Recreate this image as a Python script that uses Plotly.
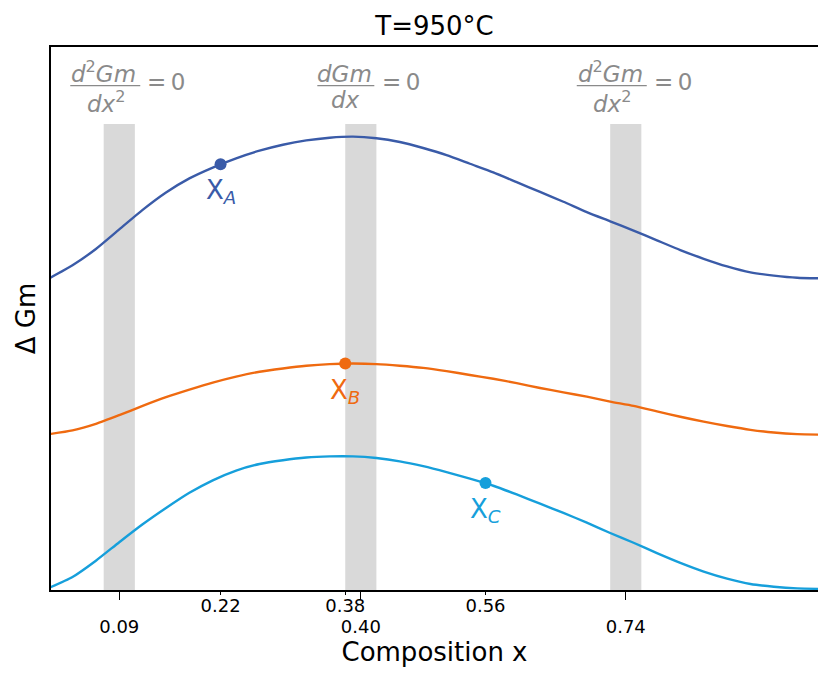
import plotly.graph_objects as go

# ---- data ----
x_comp = [0.00, 0.03, 0.06, 0.09, 0.12, 0.15, 0.18, 0.21, 0.24, 0.27, 0.30, 0.33, 0.36, 0.39,
          0.42, 0.45, 0.48, 0.51, 0.54, 0.57, 0.60, 0.63, 0.66, 0.69, 0.72, 0.75, 0.78, 0.81,
          0.84, 0.87, 0.90, 0.93, 0.96, 0.99]
gm_a = [0.574, 0.598, 0.628, 0.664, 0.700, 0.732, 0.758, 0.778, 0.795, 0.809, 0.820, 0.828, 0.833, 0.835,
        0.832, 0.825, 0.814, 0.801, 0.785, 0.769, 0.751, 0.733, 0.715, 0.696, 0.679, 0.662, 0.644, 0.626,
        0.610, 0.596, 0.585, 0.579, 0.575, 0.574]
gm_b = [0.287, 0.294, 0.306, 0.322, 0.339, 0.355, 0.369, 0.382, 0.393, 0.402, 0.408, 0.413, 0.416, 0.417,
        0.416, 0.413, 0.409, 0.403, 0.396, 0.389, 0.381, 0.372, 0.364, 0.356, 0.347, 0.339, 0.329, 0.319,
        0.310, 0.302, 0.295, 0.290, 0.287, 0.286]
gm_c = [0.004, 0.024, 0.054, 0.088, 0.121, 0.151, 0.179, 0.202, 0.220, 0.232, 0.239, 0.244, 0.246, 0.246,
        0.243, 0.237, 0.228, 0.217, 0.205, 0.192, 0.176, 0.159, 0.142, 0.124, 0.105, 0.087, 0.068, 0.050,
        0.034, 0.021, 0.011, 0.006, 0.003, 0.002]

point_x = [0.22, 0.38, 0.56]
point_y = [0.784, 0.417, 0.197]
point_names = ["A", "B", "C"]

band_centers = [0.09, 0.40, 0.74]
band_half_width = 0.02
band_top = 0.858
band_kinds = ["d2", "d1", "d2"]

major_ticks = [0.09, 0.40, 0.74]
minor_ticks = [0.22, 0.38, 0.56]

title_text = "T=950°C"
x_title = "Composition x"
y_title = "Δ Gm"

# ---- style ----
FONT = "DejaVu Sans"
colors = ["#3a5ba8", "#ef6a10", "#169fdb"]
GREY_TEXT = "#8a8a8a"
BAND = "#d9d9d9"
X_RANGE = [0.0024, 0.9867]
W, H = 818, 675

fig = go.Figure()

for ys, c in zip([gm_a, gm_b, gm_c], colors):
    fig.add_trace(go.Scatter(x=x_comp, y=ys, mode="lines",
                             line=dict(color=c, width=2.4, shape="spline", smoothing=0.6),
                             showlegend=False, hoverinfo="skip"))

fig.add_trace(go.Scatter(x=point_x, y=point_y, mode="markers", xaxis="x2",
                         marker=dict(color=colors, size=12),
                         showlegend=False, hoverinfo="skip"))

shapes = []
annotations = []
for c, kind in zip(band_centers, band_kinds):
    shapes.append(dict(type="rect", xref="x", yref="y", x0=c - band_half_width, x1=c + band_half_width,
                       y0=0, y1=band_top, fillcolor=BAND, line=dict(width=0), layer="below"))
    if kind == "d2":
        num, den = "<i>d</i><sup>2</sup><i>Gm</i>", "<i>dx</i><sup>2</sup>"
        nshift, dshift, b0, b1, eshift = -15.5, -13.5, -49, 21, 26
    else:
        num, den = "<i>dGm</i>", "<i>dx</i>"
        nshift, dshift, b0, b1, eshift = -16, -15.5, -43.5, 13.5, 19.5
    bar_y = 0.929
    shapes.append(dict(type="line", xref="x", yref="y", xsizemode="pixel", xanchor=c,
                       x0=b0, x1=b1, y0=bar_y, y1=bar_y, line=dict(color=GREY_TEXT, width=1.2)))
    annotations.append(dict(x=c, y=bar_y, xref="x", yref="y", text=num, showarrow=False,
                            xanchor="center", yanchor="bottom", xshift=nshift, yshift=-3,
                            font=dict(family=FONT, size=23, color=GREY_TEXT)))
    annotations.append(dict(x=c, y=bar_y, xref="x", yref="y", text=den, showarrow=False,
                            xanchor="center", yanchor="top", xshift=dshift, yshift=1,
                            font=dict(family=FONT, size=23, color=GREY_TEXT)))
    annotations.append(dict(x=c, y=bar_y, xref="x", yref="y", text="=\u20090", showarrow=False,
                            xanchor="left", yanchor="middle", xshift=eshift, yshift=4,
                            font=dict(family=FONT, size=23, color=GREY_TEXT)))

for px_, py_, name, c in zip(point_x, point_y, point_names, colors):
    annotations.append(dict(x=px_, y=py_, xref="x", yref="y", text=f"X<sub><i>{name}</i></sub>",
                            showarrow=False, xanchor="center", yanchor="top", yshift=-9,
                            font=dict(family=FONT, size=26, color=c)))

fig.update_layout(
    width=W, height=H,
    margin=dict(l=51, r=0, t=47, b=85),
    paper_bgcolor="white", plot_bgcolor="white",
    font=dict(family=FONT, color="black"),
    title=dict(text=title_text, x=0.5, xref="paper", y=1 - 26 / H, yref="container",
               xanchor="center", yanchor="middle", font=dict(family=FONT, size=26, color="black")),
    shapes=shapes, annotations=annotations,
    xaxis=dict(range=X_RANGE, tickvals=major_ticks, ticktext=[f"{v:.2f}" for v in major_ticks],
               ticks="outside", ticklen=8, tickwidth=1.3, tickcolor="black",
               showline=True, linecolor="black", linewidth=1.6, mirror=True,
               showgrid=False, zeroline=False, tickfont=dict(family=FONT, size=18),
               ticklabelstandoff=12,
               title=dict(text=x_title, font=dict(family=FONT, size=26), standoff=4)),
    xaxis2=dict(range=X_RANGE, overlaying="x", anchor="y", side="bottom",
                tickvals=minor_ticks, ticktext=[f"{v:.2f}" for v in minor_ticks],
                ticks="outside", ticklen=4, tickwidth=1.1, tickcolor="black",
                showline=False, showgrid=False, zeroline=False,
                ticklabelstandoff=-5,
                tickfont=dict(family=FONT, size=18)),
    yaxis=dict(range=[0, 1], showline=True, linecolor="black", linewidth=1.6, mirror=False,
               showticklabels=False, ticks="", showgrid=False, zeroline=False,
               title=dict(text=y_title, font=dict(family=FONT, size=26), standoff=6)),
)

fig.write_html("out.html", config={"displayModeBar": False},
               post_script="document.body.style.margin='0';document.body.style.overflow='hidden';")
